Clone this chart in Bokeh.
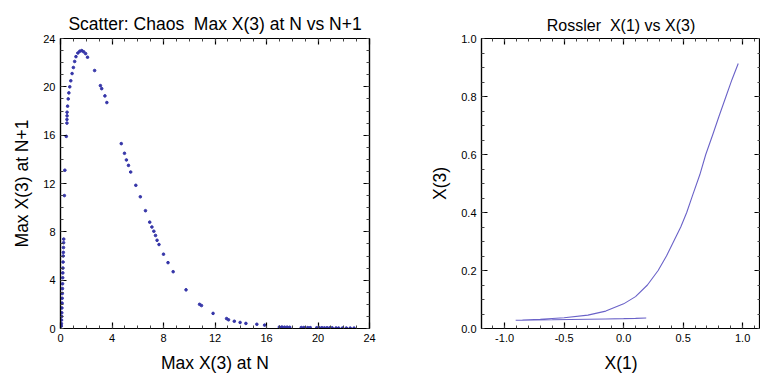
from bokeh.plotting import figure
from bokeh.layouts import row
from bokeh.models import LinearAxis, FixedTicker, PrintfTickFormatter, Range1d
from bokeh.embed import file_html
from bokeh.resources import INLINE
import numpy as np

# ---- Data: left scatter (Max X(3) at N vs N+1) ----
max_n = [0.25, 0.24, 0.23, 0.22, 0.21, 0.20, 0.19, 0.18, 0.17, 0.16, 0.15, 0.14, 0.13,
         0.12, 0.11, 0.10, 0.09, 0.08, 0.07, 0.06,
         0.30, 0.34, 0.45, 0.50, 0.50, 0.51, 0.51, 0.55, 0.60, 0.65, 0.72, 0.80, 0.90,
         1.00, 1.10, 1.20, 1.35, 1.50, 1.65, 1.80, 1.95, 2.10, 2.65, 3.10, 3.20, 3.45, 3.60,
         4.72, 4.97, 5.12, 5.28, 5.45, 5.85, 6.20, 6.60, 6.93, 7.10, 7.25, 7.38, 7.50, 7.65,
         8.00, 8.35, 8.75, 9.75, 10.80, 10.95, 11.85, 12.90, 13.05, 13.50, 13.95, 14.40,
         15.25, 15.85,
         17.0, 17.2, 17.4, 17.6, 17.8, 18.7, 18.9, 19.2, 19.4, 19.9, 20.1, 20.3, 20.5,
         20.7, 20.9, 21.1, 21.4, 21.6, 21.9, 22.2, 22.5, 22.8]
max_n1 = [7.4, 7.1, 6.7, 6.3, 6.0, 5.5, 5.0, 4.6, 4.2, 3.7, 3.3, 2.9, 2.5,
          2.1, 1.7, 1.3, 1.0, 0.7, 0.4, 0.2,
          11.0, 13.1, 15.9, 17.0, 17.3, 17.6, 17.9, 18.4, 19.0, 19.5, 20.0, 20.5, 21.1,
          21.6, 22.1, 22.5, 22.8, 22.95, 23.0, 22.9, 22.75, 22.45, 21.35, 20.1, 19.85, 19.25, 18.7,
          15.3, 14.5, 13.95, 13.5, 12.95, 11.85, 10.9, 9.75, 8.8, 8.4, 8.05, 7.7, 7.3, 6.95,
          6.15, 5.45, 4.7, 3.2, 2.0, 1.9, 1.25, 0.82, 0.72, 0.6, 0.5, 0.42,
          0.35, 0.28,
          0.12, 0.12, 0.11, 0.11, 0.10, 0.08, 0.08, 0.07, 0.07, 0.06, 0.06, 0.06, 0.05,
          0.05, 0.05, 0.05, 0.04, 0.04, 0.04, 0.04, 0.03, 0.03]

# ---- Data: right line (Rossler X(1) vs X(3)) ----
x1 = [0.19, 0.10, 0.0, -0.15, -0.30, -0.45, -0.60, -0.75, -0.85, -0.907,
      -0.85, -0.70, -0.50, -0.30, -0.15, 0.0, 0.10, 0.20, 0.29, 0.36, 0.42, 0.48,
      0.53, 0.58, 0.64, 0.69, 0.75, 0.80, 0.86, 0.91, 0.963]
x3 = [0.036, 0.035, 0.034, 0.033, 0.032, 0.031, 0.030, 0.0295, 0.029, 0.0286,
      0.029, 0.032, 0.037, 0.046, 0.060, 0.085, 0.110, 0.150, 0.200, 0.250, 0.300, 0.350,
      0.400, 0.460, 0.530, 0.600, 0.670, 0.730, 0.800, 0.858, 0.914]

left_ticks = [0, 4, 8, 12, 16, 20, 24]
left_minor = list(range(0, 25))
right_xticks = [-1.0, -0.5, 0.0, 0.5, 1.0]
right_xminor = [round(v, 2) for v in np.arange(-1.1, 1.15, 0.1)]
right_yticks = [0.0, 0.2, 0.4, 0.6, 0.8, 1.0]
right_yminor = [round(v, 2) for v in np.arange(0, 1.01, 0.05)]

TITLE_FONT = "Liberation Sans"
LABEL_FS = "17.5px"


def style_axis(ax, ticker, fmt=None, labels=True):
    ax.ticker = ticker
    if fmt is not None:
        ax.formatter = fmt
    ax.major_tick_in = 6
    ax.major_tick_out = 0
    ax.minor_tick_in = 3
    ax.minor_tick_out = 0
    ax.axis_line_width = 1.2
    ax.major_tick_line_width = 1.2
    ax.major_tick_line_color = "black"
    ax.minor_tick_line_color = "#444444"
    if labels:
        ax.major_label_text_color = "black"
        ax.axis_label_text_font_style = "normal"
        ax.axis_label_text_color = "black"
        ax.axis_label_text_font_size = LABEL_FS
        ax.axis_label_standoff = 8
    else:
        ax.major_label_text_font_size = "0px"
        ax.major_label_standoff = 0


def make_fig(width, xr, yr, title, tfs, bl, br, offset=0):
    p = figure(width=width, height=375, x_range=Range1d(*xr), y_range=Range1d(*yr),
               output_backend="svg", toolbar_location=None,
               min_border_left=bl, min_border_right=br, min_border_top=38,
               min_border_bottom=47)
    p.title.text = title
    p.title.align = "center"
    p.title.text_font = TITLE_FONT
    p.title.text_font_size = tfs
    p.title.text_font_style = "normal"
    p.title.text_color = "black"
    p.title.offset = offset
    p.grid.visible = False
    p.outline_line_color = "black"
    p.outline_line_width = 1.2
    return p


# ---- Left figure ----
p1 = make_fig(380, (0, 24), (0, 24), "Scatter: Chaos \u00a0Max X(3) at N vs N+1", "17.5px", 60, 11)
style_axis(p1.xaxis[0], FixedTicker(ticks=left_ticks, minor_ticks=left_minor))
style_axis(p1.yaxis[0], FixedTicker(ticks=left_ticks, minor_ticks=left_minor))
p1.xaxis[0].axis_label = "Max X(3) at N"
p1.yaxis[0].axis_label = "Max X(3) at N+1"
for loc in ("above", "right"):
    ax = LinearAxis()
    style_axis(ax, FixedTicker(ticks=left_ticks, minor_ticks=left_minor), labels=False)
    p1.add_layout(ax, loc)
p1.scatter(max_n, max_n1, size=2.6, color="#3535a8", marker="circle")

# ---- Right figure ----
p2 = make_fig(380, (-1.194, 1.15), (0, 1.0), "Rossler \u00a0X(1) vs X(3)", "16px", 101, 0, offset=8)
fmt = PrintfTickFormatter(format="%.1f")
style_axis(p2.xaxis[0], FixedTicker(ticks=right_xticks, minor_ticks=right_xminor), fmt)
style_axis(p2.yaxis[0], FixedTicker(ticks=right_yticks, minor_ticks=right_yminor), fmt)
p2.xaxis[0].axis_label = "X(1)"
p2.yaxis[0].axis_label = "X(3)"
ax = LinearAxis()
style_axis(ax, FixedTicker(ticks=right_xticks, minor_ticks=right_xminor), labels=False)
p2.add_layout(ax, "above")
ax = LinearAxis()
style_axis(ax, FixedTicker(ticks=right_yticks, minor_ticks=right_yminor), labels=False)
p2.add_layout(ax, "right")
p2.line(x1, x3, line_color="#6a62c8", line_width=1.1)

layout = row(p1, p2)
open("out.html", "w").write(file_html(layout, INLINE))
